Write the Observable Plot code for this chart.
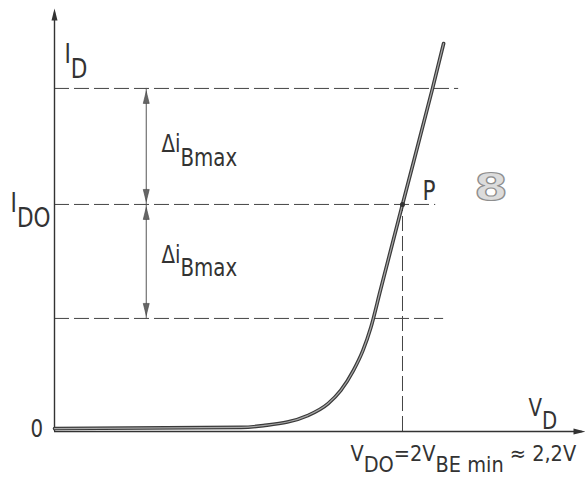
<!DOCTYPE html>
<html>
<head>
<meta charset="utf-8">
<script src="https://cdn.jsdelivr.net/npm/d3@7"></script>
<script src="https://cdn.jsdelivr.net/npm/@observablehq/plot@0.6"></script>
<style>
  html, body { margin: 0; padding: 0; background: #fff; }
  #chart { width: 585px; height: 477px; }
</style>
</head>
<body>
<div id="chart"></div>
<script>
// ---- data (units: V for V_D, I_DO = 1 for I_D) ----
const vdDomain = [0, 3.357];
const idDomain = [0, 1.863];

// diode characteristic I_D(V_D)
const vdCurve = [0, 1.18, 1.32, 1.60, 1.73, 1.81, 1.89, 1.95, 2.00, 2.06, 2.20, 2.39, 2.46];
const idCurve = [0.013, 0.018, 0.026, 0.070, 0.123, 0.181, 0.269, 0.357, 0.458, 0.621, 1.0, 1.511, 1.709];

// operating point P
const vdo = 2.2;
const ido = 1.0;

// horizontal guide levels (I_DO - Δi, I_DO, I_DO + Δi) and where they end
const idLevels = [0.498, 1.0, 1.511];
const guideEnds = [2.46, 2.41, 2.555];

// double arrow position (V_D)
const arrowVd = 0.58;

// labels
const labelID = "I_{D}";
const labelIDO = "I_{DO}";
const labelZero = "0";
const labelDelta = "Δi_{Bmax}";
const labelP = "P";
const labelFig = "8";
const labelVD = "V_{D}";
const labelVDO = "V_{DO}=2V_{BE min} ≈ 2,2V";

// ---- drawing ----
const ink = "#333";
const font = "'DejaVu Sans Condensed', 'Liberation Sans Narrow', 'DejaVu Sans', sans-serif";

const curveData = vdCurve.map((v, i) => ({vd: v, id: idCurve[i]}));

// slim filled arrowhead, tip at origin, pointing up
const headSym = {
  draw(ctx) {
    ctx.moveTo(0, 0);
    ctx.lineTo(-3, 12);
    ctx.lineTo(3, 12);
    ctx.closePath();
  }
};

const upTips = [idLevels[2], idLevels[1]];
const downTips = [idLevels[1], idLevels[0]];

function label(text, x, y, opts = {}, cls = "sublbl") {
  return Plot.text([text], {
    x: () => x, y: () => y, text: d => d,
    textAnchor: "start", lineAnchor: "bottom",
    fontFamily: font, fill: ink, fontSize: 20,
    className: cls,
    ...opts
  });
}

const chart = Plot.plot({
  width: 585,
  height: 477,
  marginLeft: 54,
  marginRight: 0,
  marginTop: 8,
  marginBottom: 46,
  x: {domain: vdDomain, axis: null},
  y: {domain: idDomain, axis: null},
  style: {background: "white", overflow: "visible"},
  marks: [
    // dashed guides
    Plot.ruleY(idLevels, {y: d => d, x1: 0, x2: guideEnds, stroke: "#444", strokeWidth: 1, strokeDasharray: "15,5"}),
    Plot.ruleX([vdo], {x: d => d, y1: 0, y2: ido, stroke: "#444", strokeWidth: 1, strokeDasharray: "15,5"}),
    // axes
    Plot.ruleY([0], {y: d => d, x1: vdDomain[0], x2: vdDomain[1] - 0.02, stroke: ink, strokeWidth: 1.4}),
    Plot.ruleX([0], {x: d => d, y1: idDomain[0], y2: idDomain[1] - 0.02, stroke: ink, strokeWidth: 1.4}),
    Plot.dot([0], {x: vdDomain[1], y: 0, symbol: headSym, rotate: 90, fill: ink, stroke: "none"}),
    Plot.dot([0], {x: 0, y: idDomain[1], symbol: headSym, rotate: 0, fill: ink, stroke: "none"}),
    // double arrows for Δi_Bmax
    Plot.ruleX([arrowVd], {x: d => d, y1: idLevels[0], y2: idLevels[2], stroke: "#555", strokeWidth: 1}),
    Plot.dot(upTips, {x: arrowVd, y: d => d, dy: 3, symbol: headSym, rotate: 0, fill: "#666", stroke: "#444", strokeWidth: 0.6}),
    Plot.dot(downTips, {x: arrowVd, y: d => d, dy: -3, symbol: headSym, rotate: 180, fill: "#666", stroke: "#444", strokeWidth: 0.6}),
    // characteristic curve
    Plot.line(curveData, {x: "vd", y: "id", curve: "monotone-x", stroke: "#3a3a3a", strokeWidth: 3.6}),
    Plot.line(curveData, {x: "vd", y: "id", curve: "monotone-x", stroke: "#a8a8a8", strokeWidth: 1.2}),
    Plot.dot([0], {x: vdo, y: ido, r: 2.5, fill: "#333", stroke: "none"}),
    // labels
    label(labelID, 0.063, 1.621, {fontSize: 24}, "sublbl tall"),
    label(labelIDO, -0.278, 0.965, {fontSize: 24}, "sublbl tall"),
    label(labelZero, -0.152, -0.026, {fontSize: 22}, "sublbl tall"),
    label(labelDelta, 0.676, 1.229, {fontSize: 22}, "sublbl tall"),
    label(labelDelta, 0.676, 0.744, {fontSize: 22}, "sublbl tall"),
    label(labelP, 2.326, 1.018, {fontSize: 24}, "sublbl tall"),
    label(labelVD, 2.996, 0.070, {fontSize: 22}, "sublbl tall"),
    label(labelVDO, 1.871, -0.128, {fontSize: 21.5}, "sublbl"),
    Plot.text([labelFig], {x: () => 2.76, y: () => 1.018, text: d => d, textAnchor: "middle", lineAnchor: "bottom",
      fontFamily: "'DejaVu Sans', sans-serif", fontWeight: "bold", fontSize: 37,
      fill: "#dcdcdc", stroke: "#8e8e8e", strokeWidth: 1.1, paintOrder: "normal", className: "wide"})
  ]
});

// turn "_{...}" markup into subscript tspans
d3.select(chart).selectAll(".sublbl text").each(function () {
  const s = this.textContent;
  const re = /_\{([^}]*)\}/g;
  const parts = [];
  let last = 0, m;
  while ((m = re.exec(s))) {
    if (m.index > last) parts.push({t: s.slice(last, m.index), sub: false});
    parts.push({t: m[1], sub: true});
    last = re.lastIndex;
  }
  if (last < s.length) parts.push({t: s.slice(last), sub: false});
  if (!parts.some(p => p.sub)) return;
  const el = d3.select(this);
  el.text(null);
  const shift = 0.55;
  let down = false;
  for (const p of parts) {
    const ts = el.append("tspan").text(p.t);
    if (p.sub && !down) { ts.attr("dy", shift + "em"); down = true; }
    else if (!p.sub && down) { ts.attr("dy", (-shift) + "em"); down = false; }
  }
});
// narrow technical lettering: stretch vertically about the baseline
d3.select(chart).selectAll(".tall text").each(function () {
  const t = this.getAttribute("transform") || "";
  this.setAttribute("transform", t + " scale(1,1.12)");
});
// wide outlined figure mark
d3.select(chart).selectAll(".wide text").each(function () {
  const t = this.getAttribute("transform") || "";
  this.setAttribute("transform", t + " scale(1.3,1)");
});

document.getElementById("chart").appendChild(chart);
</script>
</body>
</html>
